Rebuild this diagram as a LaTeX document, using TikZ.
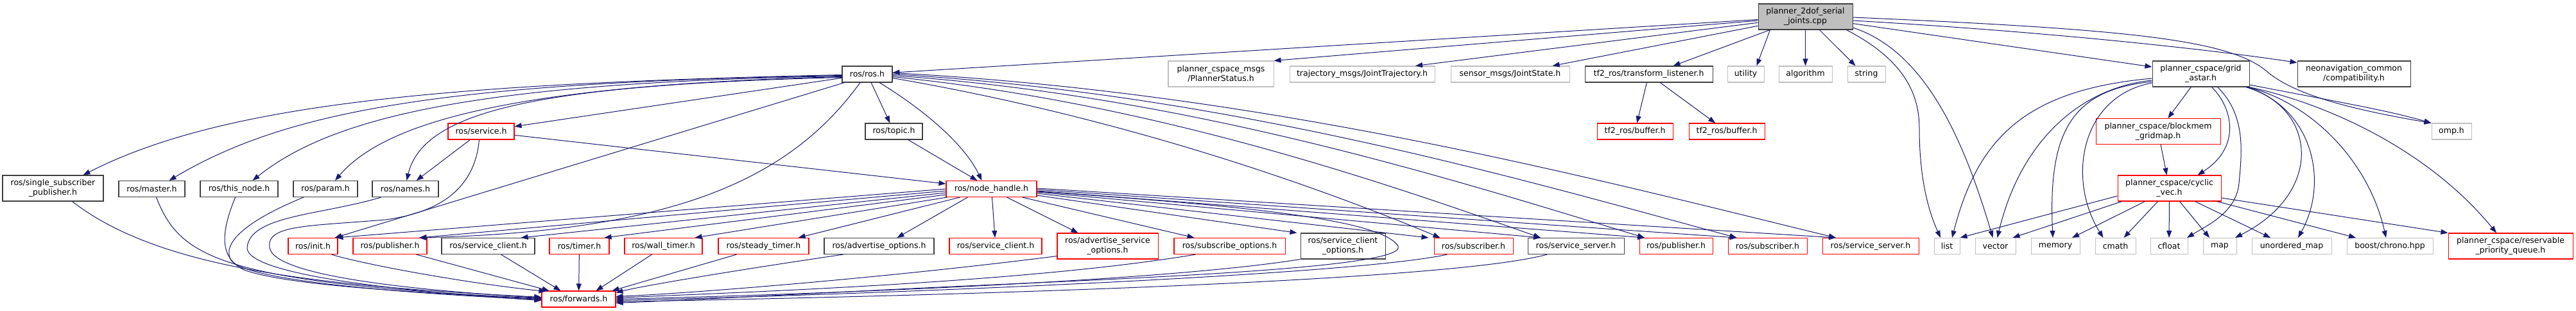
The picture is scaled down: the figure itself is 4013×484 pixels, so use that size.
\documentclass[tikz,border=0pt]{standalone}
\usepackage{fontspec}
\newfontfamily\dv{DejaVu Sans}
\usetikzlibrary{arrows.meta,calc}
\definecolor{edgec}{HTML}{191970}
\definecolor{grayb}{HTML}{BFBFBF}
\definecolor{darkb}{HTML}{404040}
\definecolor{redb}{HTML}{FF0000}
\newcommand\nb[6]{\node[#1, minimum width=#4bp, minimum height=#5bp] (#2) at (#3) {#6};}
\begin{document}
\begin{tikzpicture}[x=1bp,y=-1bp,
  box/.style={rectangle, inner sep=0pt, align=center, line width=1.05bp, text=black,
    font=\dv\fontsize{12.5bp}{15bp}\selectfont},
  gb/.style={box, draw=grayb},
  kb/.style={box, draw=darkb},
  rb/.style={box, draw=redb},
  rootb/.style={box, draw=darkb, fill=grayb},
  e/.style={draw=edgec, line width=1bp, -{Triangle[length=11bp,width=8bp]}}]
\fill[white] (0,0) rectangle (4013,484);
\useasboundingbox (0,0) rectangle (4013,484);
% row 0
\nb{rootb}{root}{2812.5,26}{147}{40}{planner\_2dof\_serial\\\_joints.cpp}
% row 1
\nb{kb}{rosh}{1351,115.5}{78}{25}{ros/ros.h}
\nb{gb}{pcs}{1902,115}{164}{40}{planner\_cspace\_msgs\\/PlannerStatus.h}
\nb{gb}{traj}{2122,115.5}{226}{25}{trajectory\_msgs/JointTrajectory.h}
\nb{gb}{sensor}{2352.5,115.5}{185}{25}{sensor\_msgs/JointState.h}
\nb{kb}{tf2tl}{2568.5,115.5}{199}{25}{tf2\_ros/transform\_listener.h}
\nb{gb}{utility}{2719.5,115.5}{57}{25}{utility}
\nb{gb}{algorithm}{2812.5,115.5}{83}{25}{algorithm}
\nb{gb}{string}{2907.5,115.5}{59}{25}{string}
\nb{kb}{grid}{3428.5,115}{151}{40}{planner\_cspace/grid\\\_astar.h}
\nb{kb}{neo}{3667,115}{176}{40}{neonavigation\_common\\/compatibility.h}
% row 2
\nb{rb}{service}{749.5,204.5}{103}{25}{ros/service.h}
\nb{kb}{topic}{1392.5,204.5}{89}{25}{ros/topic.h}
\nb{rb}{buf1}{2547,204.5}{118}{25}{tf2\_ros/buffer.h}
\nb{rb}{buf2}{2690,204.5}{118}{25}{tf2\_ros/buffer.h}
\nb{rb}{blockmem}{3362,204.5}{194}{40}{planner\_cspace/blockmem\\\_gridmap.h}
\nb{gb}{omp}{3819,204.5}{62}{25}{omp.h}
% row 3
\nb{kb}{ssp}{82.5,293}{157}{40}{ros/single\_subscriber\\\_publisher.h}
\nb{kb}{master}{236.5,294}{103}{25}{ros/master.h}
\nb{kb}{thisnode}{372.5,294}{121}{25}{ros/this\_node.h}
\nb{kb}{param}{507,294}{100}{25}{ros/param.h}
\nb{kb}{names}{631.5,294}{103}{25}{ros/names.h}
\nb{rb}{nh}{1544.5,294}{141}{25}{ros/node\_handle.h}
\nb{rb}{cyclic}{3379.5,293}{161}{40}{planner\_cspace/cyclic\\\_vec.h}
% row 4
\nb{rb}{init}{487.5,383}{77}{25}{ros/init.h}
\nb{rb}{pub1}{607.5,383}{115}{25}{ros/publisher.h}
\nb{kb}{sc1}{760.5,383}{145}{25}{ros/service\_client.h}
\nb{rb}{timer}{902.5,383}{93}{25}{ros/timer.h}
\nb{rb}{wall}{1033.5,383}{121}{25}{ros/wall\_timer.h}
\nb{rb}{steady}{1189.5,383}{141}{25}{ros/steady\_timer.h}
\nb{kb}{advopt}{1369.5,383}{171}{25}{ros/advertise\_options.h}
\nb{rb}{sc2}{1551,383}{144}{25}{ros/service\_client.h}
\nb{rb}{advsrv}{1725.5,383}{157}{40}{ros/advertise\_service\\\_options.h}
\nb{rb}{subopt}{1915.5,383}{173}{25}{ros/subscribe\_options.h}
\nb{kb}{scopt}{2092,383}{132}{40}{ros/service\_client\\\_options.h}
\nb{rb}{sub1}{2295.5,383}{123}{25}{ros/subscriber.h}
\nb{kb}{ss1}{2455,383}{150}{25}{ros/service\_server.h}
\nb{rb}{pub2}{2611,383}{114}{25}{ros/publisher.h}
\nb{rb}{sub2}{2753.5,383}{123}{25}{ros/subscriber.h}
\nb{rb}{ss2}{2914,383}{150}{25}{ros/service\_server.h}
\nb{gb}{list}{3033,383}{40}{25}{list}
\nb{gb}{vector}{3108.5,383}{63}{25}{vector}
\nb{gb}{memory}{3202,383}{76}{25}{memory}
\nb{gb}{cmath}{3295.5,383}{63}{25}{cmath}
\nb{gb}{cfloat}{3379,383}{58}{25}{cfloat}
\nb{gb}{map}{3458,383}{52}{25}{map}
\nb{gb}{umap}{3570,383}{124}{25}{unordered\_map}
\nb{gb}{chrono}{3723,383}{134}{25}{boost/chrono.hpp}
\nb{rb}{rpq}{3911,383}{194}{40}{planner\_cspace/reservable\\\_priority\_queue.h}
% row 5
\nb{rb}{fwd}{901.5,465.5}{115}{25}{ros/forwards.h}

% ---- edges from root
\draw[e] (root) -- (rosh);
\draw[e] (root) -- (pcs.north east);
\draw[e] (root) -- ($(traj.north)+(83,0)$);
\draw[e] (root) -- ($(sensor.north)+(66,0)$);
\draw[e] (root) -- ($(tf2tl.north)+(38,0)$);
\draw[e] ($(root.south west)+(19,0)$) -- ($(utility.north)+(17,0)$);
\draw[e] (root) -- (algorithm);
\draw[e] ($(root.south)+(22,0)$) -- ($(string.north)+(-17,0)$);
\draw[e] ($(root.south east)+(-10,0)$) .. controls (2960,90) and (2990,140) .. (2990,200) .. controls (2990,280) and (3005,330) .. ($(list.north)+(-10,0)$);
\draw[e] ($(root.east)+(0,17)$) .. controls (3000,80) and (3060,220) .. ($(vector.north)+(-4,0)$);
\draw[e] (root) -- (grid);
\draw[e] ($(root.east)+(0,6)$) .. controls (3200,50) and (3450,78) .. ($(neo.north west)+(0,3)$);
\draw[e] ($(root.east)+(0,1)$) .. controls (3300,45) and (3470,60) .. (3530,110) .. controls (3570,145) and (3650,168) .. (omp.north west);
% ---- grid
\draw[e] (grid) -- (blockmem);
\draw[e] ($(grid.south)+(17,0)$) .. controls (3480,170) and (3490,230) .. ($(cyclic.north)+(44,0)$);
\draw[e] ($(grid.south)+(26,0)$) .. controls (3500,180) and (3492,240) .. (3488,285) .. controls (3484,330) and (3440,350) .. ($(cfloat.north)+(28,0)$);
\draw[e] ($(grid.west)+(0,7)$) .. controls (3150,140) and (3080,220) .. ($(list.north)+(8,0)$);
\draw[e] ($(grid.west)+(0,10)$) .. controls (3250,135) and (3150,210) .. ($(vector.north)+(3,0)$);
\draw[e] ($(grid.west)+(0,12)$) .. controls (3230,140) and (3190,200) .. ($(memory.north)+(-4,0)$);
\draw[e] ($(grid.west)+(0,14)$) .. controls (3240,150) and (3220,280) .. ($(cmath.north)+(-19,0)$);
\draw[e] ($(grid.south east)+(-4,0)$) .. controls (3610,170) and (3620,300) .. ($(map.north)+(24,0)$);
\draw[e] ($(grid.south east)+(-6,0)$) .. controls (3600,165) and (3630,280) .. ($(umap.north)+(10,0)$);
\draw[e] ($(grid.south east)+(-3,0)$) .. controls (3600,160) and (3690,250) .. ($(chrono.north)+(-6,0)$);
\draw[e] ($(grid.south east)+(-1,0)$) .. controls (3620,160) and (3780,230) .. ($(rpq.north)+(-22,0)$);
\draw[e] ($(grid.east)+(0,17)$) .. controls (3650,160) and (3720,172) .. (omp.north west);
% ---- cyclic
\draw[e] ($(cyclic.west)+(0,12)$) -- (list.north east);
\draw[e] ($(cyclic.south west)+(7,0)$) -- ($(vector.north east)+(-5,0)$);
\draw[e] ($(cyclic.south)+(-38,0)$) -- ($(memory.north)+(26,0)$);
\draw[e] ($(cyclic.south)+(-18,0)$) -- ($(cmath.north)+(13,0)$);
\draw[e] (cyclic) -- (cfloat);
\draw[e] ($(cyclic.south)+(16,0)$) -- ($(map.north)+(-16,0)$);
\draw[e] ($(cyclic.south)+(40,0)$) -- ($(umap.north)+(-33,0)$);
\draw[e] ($(cyclic.south east)+(-7,0)$) -- ($(chrono.north)+(-53,0)$);
\draw[e] ($(cyclic.east)+(0,15)$) -- (rpq.north west);
\draw[e] (blockmem) -- (cyclic);
% ---- tf2
\draw[e] (tf2tl) -- (buf1);
\draw[e] (tf2tl) -- (buf2);
% ---- ros.h left
\draw[e] ($(rosh.west)+(0,1)$) .. controls (700,130) and (350,160) .. ($(ssp.north)+(47,0)$);
\draw[e] ($(rosh.west)+(0,2)$) .. controls (700,128) and (450,170) .. ($(master.north)+(27,0)$);
\draw[e] ($(rosh.west)+(0,3)$) .. controls (750,128) and (520,180) .. ($(thisnode.north)+(21,0)$);
\draw[e] ($(rosh.west)+(0,4)$) .. controls (800,132) and (600,190) .. ($(param.north)+(15,0)$);
\draw[e] ($(rosh.west)+(0,5)$) .. controls (850,132) and (660,170) .. ($(names.north)+(2,0)$);
\draw[e] (rosh) -- (service);
\draw[e] ($(rosh.south west)+(4,0)$) -- ($(init.north east)+(-5,0)$);
\draw[e] ($(rosh.south)+(-11,0)$) .. controls (1230,280) and (1050,360) .. ($(pub1.north east)+(-13,0)$);
\draw[e] (rosh) -- (topic);
\draw[e] ($(rosh.south)+(19,0)$) .. controls (1430,165) and (1500,220) .. ($(nh.north)+(-15,0)$);
\draw[e] (topic) -- (nh);
\draw[e] (service) -- (nh);
\draw[e] (service) -- (names);
\draw[e] ($(service.south)+(-3,0)$) .. controls (740,290) and (690,330) .. (600,342) .. controls (480,352) and (415,350) .. (420,385) .. controls (425,430) and (650,452) .. ($(fwd.west)+(0,-2)$);
% ---- ros.h right
\draw[e] ($(rosh.east)+(0,-2)$) .. controls (1979,144) and (2493,281) .. ($(ss2.north)+(-54,0)$);
\draw[e] ($(rosh.east)+(0,0)$) .. controls (1917,146) and (2376,281) .. ($(sub2.north)+(-48,0)$);
\draw[e] ($(rosh.east)+(0,2)$) .. controls (1859,150) and (2269,281) .. ($(pub2.north)+(-49,0)$);
\draw[e] ($(rosh.east)+(0,4)$) .. controls (1795,160) and (2148,281) .. ($(ss1.north)+(-55,0)$);
\draw[e] ($(rosh.east)+(0,6)$) .. controls (1732,180) and (2030,281) .. ($(sub1.north)+(-52,0)$);
% ---- node_handle
\draw[e] ($(nh.west)+(0,0)$) -- ($(init.north east)+(-3,0)$);
\draw[e] ($(nh.west)+(0,3)$) -- ($(pub1.north east)+(-12,0)$);
\draw[e] ($(nh.west)+(0,6)$) -- ($(sc1.north east)+(-22,0)$);
\draw[e] ($(nh.west)+(0,9)$) -- ($(timer.north east)+(-8,0)$);
\draw[e] ($(nh.south west)+(2,0)$) -- ($(wall.north east)+(-12,0)$);
\draw[e] ($(nh.south west)+(22,0)$) -- ($(steady.north east)+(-17,0)$);
\draw[e] ($(nh.south west)+(34,0)$) -- ($(advopt.north)+(28,0)$);
\draw[e] (nh) -- (sc2);
\draw[e] ($(nh.south)+(24,0)$) -- ($(advsrv.north)+(-46,0)$);
\draw[e] ($(nh.south)+(48,0)$) -- ($(subopt.north)+(-55,0)$);
\draw[e] ($(nh.east)+(0,10)$) -- ($(scopt.north west)+(-5,0)$);
\draw[e] ($(nh.east)+(0,7)$) -- ($(sub1.north)+(-70,0)$);
\draw[e] ($(nh.east)+(0,5)$) -- ($(ss1.north)+(-55,0)$);
\draw[e] ($(nh.east)+(0,3)$) -- ($(pub2.north)+(-49,0)$);
\draw[e] ($(nh.east)+(0,1)$) -- ($(sub2.north)+(-48,0)$);
\draw[e] ($(nh.east)+(0,-1)$) -- ($(ss2.north)+(-54,0)$);
\draw[e] ($(nh.east)+(0,4)$) .. controls (1900,318) and (2150,338) .. (2178,383) .. controls (2195,420) and (1700,435) .. (1400,450) .. controls (1200,460) and (1050,468) .. ($(fwd.east)+(0,6)$);
% ---- to forwards, left
\draw[e] ($(ssp.south)+(30,0)$) .. controls (250,420) and (500,445) .. ($(fwd.west)+(0,-3)$);
\draw[e] ($(master.south)+(7,0)$) .. controls (280,400) and (340,440) .. ($(fwd.west)+(0,-1)$);
\draw[e] ($(thisnode.south)+(-6,0)$) .. controls (345,360) and (340,400) .. (380,420) .. controls (450,445) and (650,455) .. ($(fwd.west)+(0,0)$);
\draw[e] ($(param.south)+(-34,0)$) .. controls (380,345) and (345,380) .. (360,405) .. controls (380,435) and (600,455) .. ($(fwd.west)+(0,1)$);
\draw[e] ($(names.south)+(-38,0)$) .. controls (500,335) and (390,335) .. (385,385) .. controls (382,425) and (600,452) .. ($(fwd.west)+(0,2)$);
\draw[e] ($(init.south east)+(-10,0)$) .. controls (560,410) and (720,440) .. ($(fwd.north west)+(7,1)$);
\draw[e] ($(pub1.south)+(41,0)$) -- ($(fwd.north west)+(12,0)$);
\draw[e] ($(sc1.south)+(20,0)$) -- ($(fwd.north west)+(30,0)$);
\draw[e] (timer) -- (fwd);
\draw[e] ($(wall.south)+(-18,0)$) -- ($(fwd.north)+(27,0)$);
\draw[e] ($(steady.south)+(-42,0)$) -- ($(fwd.north east)+(-6,0)$);
\draw[e] ($(advopt.south)+(-56,0)$) .. controls (1150,420) and (1000,445) .. ($(fwd.north east)+(0,3)$);
% ---- to forwards, right
\draw[e] ($(advsrv.south west)+(0,-5)$) .. controls (1400,430) and (1100,455) .. ($(fwd.east)+(0,-4)$);
\draw[e] ($(subopt.south)+(-53,0)$) .. controls (1600,440) and (1150,455) .. ($(fwd.east)+(0,-2)$);
\draw[e] (scopt.south west) .. controls (1800,440) and (1200,460) .. (fwd.east);
\draw[e] ($(sub1.south)+(-41,0)$) .. controls (2100,430) and (1300,460) .. ($(fwd.east)+(0,2)$);
\draw[e] ($(ss1.south)+(-45,0)$) .. controls (2250,440) and (1400,462) .. ($(fwd.east)+(0,4)$);
\end{tikzpicture}
\end{document}
